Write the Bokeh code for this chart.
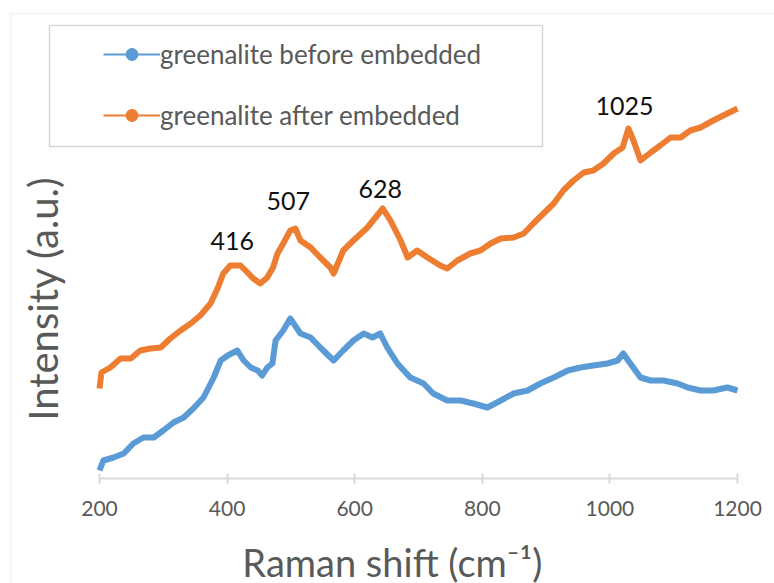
import math
from bokeh.plotting import figure
from bokeh.models import (Range1d, Label, Legend, LegendItem, BoxAnnotation,
                          FixedTicker, ColumnDataSource)
from bokeh.core.properties import value
from bokeh.embed import file_html
from bokeh.resources import INLINE

# ---------------- data ----------------
shift_before = [200, 206, 222, 238, 253, 269, 285, 300, 316, 332, 347, 363, 379, 390,
                401, 416, 426, 437, 448, 455, 463, 471, 476, 488, 499, 515, 531, 546,
                567, 582, 598, 614, 628, 640, 651, 667, 687, 708, 723, 745, 766, 786,
                808, 829, 849, 871, 891, 912, 934, 954, 974, 996, 1012, 1021, 1032,
                1048, 1064, 1084, 1106, 1122, 1142, 1162, 1184, 1200]
int_before = [8, 18, 21, 25, 35, 41, 41, 48, 56, 61, 70, 81, 101, 118,
              123, 128, 118, 111, 108, 103, 111, 115, 138, 148, 160, 145, 141, 131,
              118, 128, 138, 145, 141, 145, 131, 115, 101, 95, 85, 78, 78, 75,
              71, 78, 85, 88, 95, 101, 108, 111, 113, 115, 118, 125, 115,
              101, 98, 98, 95, 91, 88, 88, 91, 88]

shift_after = [200, 203, 217, 233, 249, 264, 280, 296, 311, 327, 343, 358, 374, 385,
               394, 405, 416, 421, 432, 441, 452, 463, 472, 479, 488, 499, 507, 515,
               531, 546, 562, 567, 582, 598, 620, 644, 656, 672, 683, 698, 714, 734,
               745, 761, 781, 797, 813, 829, 849, 865, 880, 896, 912, 927, 943, 959,
               974, 990, 1006, 1020, 1029, 1037, 1048, 1064, 1079, 1095, 1111, 1126,
               1142, 1162, 1184, 1200]
int_after = [90, 106, 111, 120, 120, 128, 130, 131, 140, 148, 155, 163, 175, 190,
             205, 213, 213, 213, 206, 200, 195, 201, 211, 225, 235, 248, 250, 238,
             231, 221, 211, 205, 228, 238, 251, 270, 258, 238, 221, 228, 221, 213,
             210, 218, 225, 228, 235, 240, 241, 245, 255, 265, 275, 288, 298, 306,
             308, 315, 325, 331, 350, 338, 318, 326, 333, 341, 341, 348,
             351, 358, 365, 370]

peak_labels = ["416", "507", "628", "1025"]
peak_label_x = [408, 496, 640, 1023]
peak_label_y = [238, 278, 290, 373]

x_ticks = [200, 400, 600, 800, 1000, 1200]
x_axis_bounds = (200, 1200)
series_names = ["greenalite before embedded", "greenalite after embedded"]
series_colors = ["#5B9BD5", "#ED7D31"]
x_title = "Raman shift (cm\u207b\u00b9)"
y_title = "Intensity (a.u.)"

FONT = "Lato"
GREY = "#595959"

# the frame fills the whole canvas; the x axis is fixed at intensity 0
p = figure(width=774, height=583, output_backend="svg", toolbar_location=None,
           x_range=Range1d(44.83, 1258.0), y_range=Range1d(-105, 478),
           min_border=0)
p.background_fill_color = "white"
p.border_fill_color = "white"
p.outline_line_color = None
p.xgrid.visible = False
p.ygrid.visible = False
p.yaxis.visible = False

ax = p.xaxis[0]
ax.fixed_location = 0
ax.bounds = x_axis_bounds
ax.ticker = FixedTicker(ticks=x_ticks)
ax.axis_line_color = "#d9d9d9"
ax.axis_line_width = 2
ax.major_tick_line_color = "#d9d9d9"
ax.major_tick_line_width = 2
ax.major_tick_in = 5
ax.major_tick_out = 5
ax.minor_tick_line_color = None
ax.major_label_text_font = FONT
ax.major_label_text_font_size = "21px"
ax.major_label_text_color = GREY
ax.major_label_standoff = 17

src_b = ColumnDataSource(dict(x=shift_before, y=int_before))
src_a = ColumnDataSource(dict(x=shift_after, y=int_after))

p.line("x", "y", source=src_b, line_color=series_colors[0], line_width=6, line_join="round")
p.line("x", "y", source=src_a, line_color=series_colors[1], line_width=6, line_join="round")

# legend-only renderers (thin line with a small marker, like the original sample)
nan = float("nan")
lb = p.line(x=[nan], y=[nan], line_color=series_colors[0], line_width=2)
mb = p.scatter(x=[nan], y=[nan], marker="circle", size=3, color=series_colors[0])
la = p.line(x=[nan], y=[nan], line_color=series_colors[1], line_width=2)
ma = p.scatter(x=[nan], y=[nan], marker="circle", size=3, color=series_colors[1])

legend = Legend(items=[LegendItem(label=series_names[0], renderers=[lb, mb]),
                       LegendItem(label=series_names[1], renderers=[la, ma])],
                location=(103, 452), padding=0, spacing=29, margin=0,
                label_height=30, glyph_height=30, glyph_width=57, label_standoff=0,
                border_line_alpha=0, background_fill_alpha=0,
                label_text_font=FONT, label_text_font_size="26px",
                label_text_color=GREY)
p.add_layout(legend, "center")

# legend box and chart border
p.add_layout(BoxAnnotation(left=121.6, right=894.4, top=453, bottom=332,
                           fill_color=None, line_color="#7f7f7f", line_width=1.5))
p.add_layout(BoxAnnotation(left=60.5, right=1400, top=465, bottom=-300,
                           fill_color=None, line_color="#d9d9d9", line_width=2))

# peak annotations
p.text(x=peak_label_x, y=peak_label_y, text=peak_labels,
       text_font=value(FONT), text_font_size="25px", text_color="#111111",
       text_align="center", text_baseline="middle")

# axis titles
p.add_layout(Label(x=659, y=-83, text=x_title, text_font=FONT,
                   text_font_size="38px", text_color=GREY,
                   text_align="center", text_baseline="middle"))
p.add_layout(Label(x=110.7, y=180, text=y_title, angle=math.pi / 2, text_font=FONT,
                   text_font_size="40px", text_color=GREY,
                   text_align="center", text_baseline="middle"))

open("out.html", "w").write(file_html(p, INLINE))
